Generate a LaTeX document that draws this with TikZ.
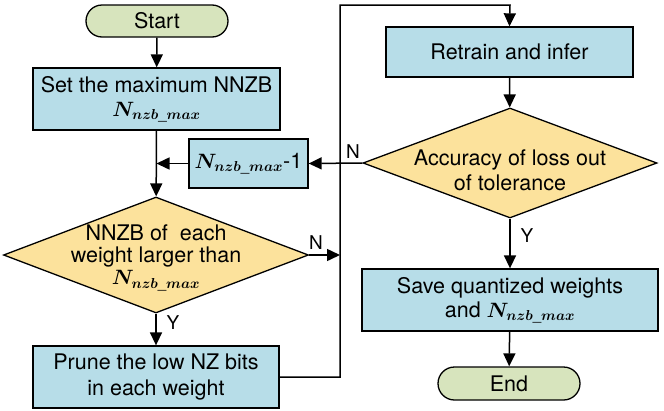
\documentclass[tikz,border=0pt]{standalone}
\usepackage{amsmath,amssymb}
\usepackage{fontspec}
\setmainfont{TeX Gyre Heros}
\usetikzlibrary{shapes.geometric,shapes.misc,arrows.meta}
\definecolor{boxblue}{HTML}{B7DDE8}
\definecolor{diagold}{HTML}{FCE29C}
\definecolor{termgreen}{HTML}{D7E4BD}
\newcommand{\Nnzb}{$\boldsymbol{N_{nzb\_max}}$}
\begin{document}
\begin{tikzpicture}[x=1pt,y=-1pt,
  every node/.style={font=\fontsize{21.5}{25}\selectfont},
  procbox/.style={draw=black,line width=1.3pt,fill=boxblue,rectangle,align=center,inner sep=0pt},
  termbox/.style={draw=black,line width=1.3pt,fill=termgreen,rounded rectangle,inner sep=0pt},
  decbox/.style={draw=black,line width=1.3pt,fill=diagold,diamond,inner sep=0pt},
  dectext/.style={align=center,inner sep=0pt},
  conn/.style={line width=1.5pt,-{Triangle[length=13pt,width=12pt]}},
  lbl/.style={inner sep=0pt,font=\fontsize{19}{21}\selectfont}]
\useasboundingbox (0,0) rectangle (664,410);
\node[termbox,minimum width=142pt,minimum height=32pt] (start) at (157,21) {Start};
\node[procbox,minimum width=247pt,minimum height=62pt] (set) at (156.5,99) {Set the maximum NNZB\\[-1pt]\Nnzb};
\node[procbox,minimum width=119pt,minimum height=49pt] (nm) at (248.5,163.5) {\Nnzb-1};
\node[decbox,minimum width=305pt,minimum height=116pt] (d1) at (156,255) {};
\node[dectext] at (156,258) {NNZB of\ \ each\\[-3pt]weight larger than\\[-3pt]\Nnzb};
\node[procbox,minimum width=246pt,minimum height=62pt] (prune) at (156,377) {Prune the low NZ bits\\in each weight};
\node[procbox,minimum width=247pt,minimum height=50pt] (retrain) at (509.5,52) {Retrain and infer};
\node[decbox,minimum width=294pt,minimum height=110pt] (d2) at (510,163) {};
\node[dectext] at (510,170) {Accuracy of loss out\\of tolerance};
\node[procbox,minimum width=296pt,minimum height=62pt] (save) at (510,300) {Save quantized weights\\[-1pt]and \Nnzb};
\node[termbox,minimum width=142pt,minimum height=33pt] (end) at (509,383.5) {End};

\coordinate (j1) at (340,255);
\coordinate (c1) at (340,377);
\coordinate (c2) at (340,5);
\coordinate (c3) at (510,5);

\draw[conn] (start) -- (set);
\draw[conn] (set) -- (d1);
\draw[conn] (nm.west) -- (set.south |- nm.west);
\draw[conn] (d2.west) -- (nm.east);
\draw[conn] (d1.east) -- (j1);
\draw[conn] (prune.east) -- (c1) -- (c2) -- (c3) -- (retrain.north);
\draw[conn] (retrain) -- (d2);
\draw[conn] (d2) -- (save);
\draw[conn] (save) -- (end);
\draw[conn] (d1.south) -- (prune.north);

\node[lbl] (ln1) at (316,243) {N};
\node[lbl] (lY1) at (173,323) {Y};
\node[lbl] (ln2) at (353,152) {N};
\node[lbl] (lY2) at (527,236) {Y};
\end{tikzpicture}
\end{document}
